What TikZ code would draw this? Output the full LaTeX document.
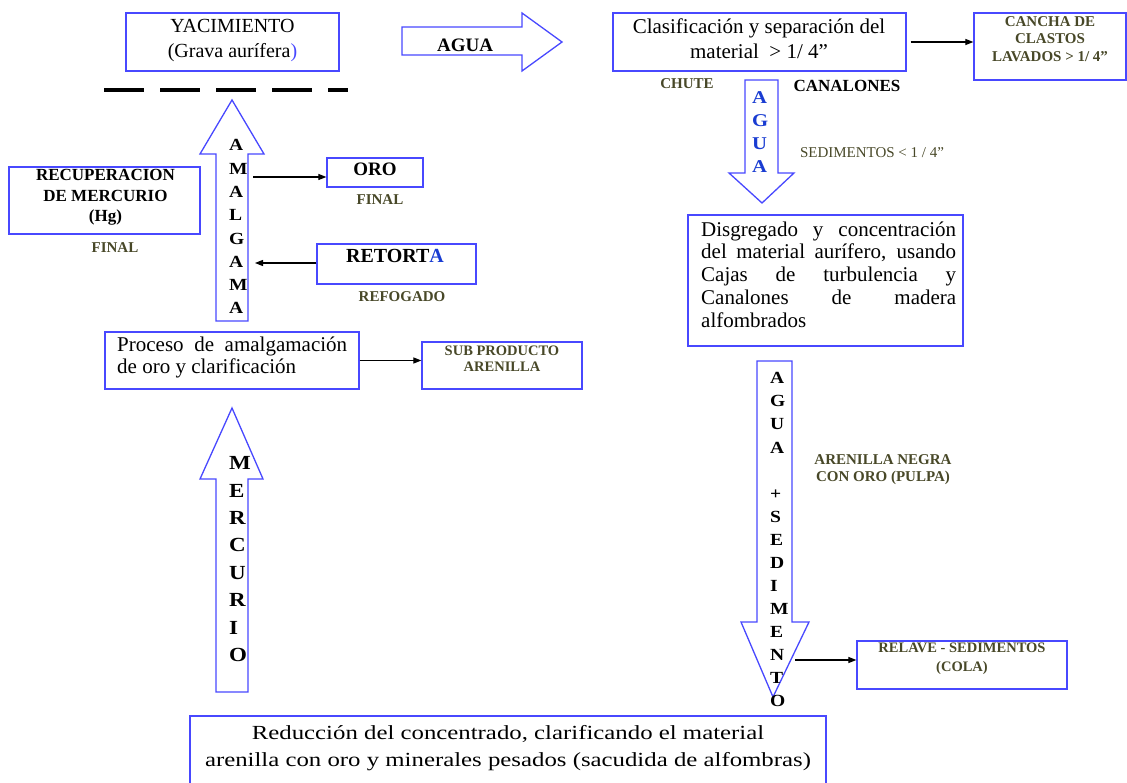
\documentclass[tikz,border=0pt]{standalone}
\usepackage{fontspec}
\setmainfont{Liberation Serif}
\newfontfamily\widefont[FakeStretch=1.24]{Liberation Serif}
\newfontfamily\stackfont[FakeStretch=1.15]{Liberation Serif}
\usetikzlibrary{arrows.meta,calc}
\definecolor{bblue}{RGB}{72,72,255}
\definecolor{lblue}{RGB}{25,60,210}
\definecolor{olive}{RGB}{72,72,40}
\newcommand{\myfs}[2]{\fontsize{#1}{#2}\selectfont}
\begin{document}
\begin{tikzpicture}[x=1pt,y=-1pt,
  box/.style={draw=bblue, line width=1.3pt, inner sep=0pt},
  blockarrow/.style={draw=bblue, line width=1.3pt, fill=white, line join=miter},
  txt/.style={inner sep=0pt, align=center},
  olab/.style={inner sep=0pt, align=center, text=olive, font=\bfseries\myfs{15}{17.5}},
  stack/.style={inner sep=0pt, align=left, anchor=north west},
  conn/.style={-{Triangle[length=8pt,width=6pt]}, line width=1.1pt, black},
]
\useasboundingbox (0,0) rectangle (1127,783);

% ---------- boxes ----------
\node[box, minimum width=213pt, minimum height=58pt] (yac) at (232.5,42) {};
\node[box, minimum width=293pt, minimum height=58pt] (clas) at (759.5,42) {};
\node[box, minimum width=152pt, minimum height=67pt] (cancha) at (1050,46.5) {};
\node[box, minimum width=275pt, minimum height=131pt] (dis) at (825.5,280.5) {};
\node[box, minimum width=210pt, minimum height=48pt] (relave) at (962,665) {};
\node[box, minimum width=636pt, minimum height=74pt] (red) at (508,753) {};
\node[box, minimum width=191pt, minimum height=67pt] (recup) at (104.5,200.5) {};
\node[box, minimum width=96pt, minimum height=29pt] (oro) at (375,172.5) {};
\node[box, minimum width=159pt, minimum height=40pt] (retorta) at (396.5,264) {};
\node[box, minimum width=254pt, minimum height=57pt] (proc) at (232,360.5) {};
\node[box, minimum width=160pt, minimum height=47pt] (sub) at (502,365.5) {};

% ---------- dashed line ----------
\draw[line width=4pt, dash pattern=on 40pt off 16pt] (104,90) -- (348,90);

% ---------- block arrows ----------
\draw[blockarrow] (402,27) -- (522,27) -- (522,13) -- (562,42) -- (522,71) -- (522,55) -- (402,55) -- cycle;
\draw[blockarrow] (745,80) -- (778,80) -- (778,173) -- (794,173) -- (762,203) -- (729,173) -- (745,173) -- cycle;
\draw[blockarrow] (757,361) -- (792,361) -- (792,622) -- (809,622) -- (773,697) -- (741,622) -- (757,622) -- cycle;
\draw[blockarrow] (216,321) -- (248,321) -- (248,154) -- (264,154) -- (232,100) -- (200,154) -- (216,154) -- cycle;
\draw[blockarrow] (216,692) -- (248,692) -- (248,479) -- (263,479) -- (232,408) -- (200,479) -- (216,479) -- cycle;

% ---------- texts ----------
\node[txt, font=\myfs{20}{25}] (yact) at (232.5,40.5) {YACIMIENTO\\(Grava aurífera\textcolor{bblue}{)}};
\node[txt, font=\bfseries\myfs{19}{22}] (aguat) at (465,45) {AGUA};
\node[txt, font=\myfs{21}{25}] (clast) at (759,38.5) {Clasificación y separación del\\material\ \ > 1/ 4”};
\node[olab] (canchat) at (1050,39) {CANCHA DE\\CLASTOS\\LAVADOS > 1/ 4”};
\node[olab] (chute) at (687,84) {CHUTE};
\node[txt, font=\bfseries\myfs{17}{20}] (canal) at (847,86) {CANALONES};
\node[stack, text=lblue, font=\stackfont\bfseries\myfs{18}{23}] (agua2) at (752,91) {A\\G\\U\\A};
\node[txt, text=olive, font=\myfs{15}{17}] (sedl) at (872,153) {SEDIMENTOS < 1 / 4”};
\node[inner sep=0pt, align=left, anchor=west, font=\myfs{21}{22.7}] (dist) at (701,274.5)
  {\makebox[255pt][s]{Disgregado y concentración}\\
   \makebox[255pt][s]{del material aurífero, usando}\\
   \makebox[255pt][s]{Cajas de turbulencia y}\\
   \makebox[255pt][s]{Canalones de madera}\\
   alfombrados};
\node[stack, font=\stackfont\bfseries\myfs{17}{23.07}] (aguased) at (770,372.4)
  {A\\G\\U\\A\\[23.07pt]+\\S\\E\\D\\I\\M\\E\\N\\T\\O};
\node[olab, font=\bfseries\myfs{15}{17}] (aren) at (883,469.5) {ARENILLA NEGRA\\CON ORO (PULPA)};
\node[olab, font=\bfseries\myfs{14.5}{19}] (relt) at (962,659) {RELAVE - SEDIMENTOS\\(COLA)};
\node[txt, font=\widefont\myfs{20}{27}] (redt) at (508,748.5)
  {Reducción del concentrado, clarificando el material\\arenilla con oro y minerales pesados (sacudida de alfombras)};

\node[txt, font=\bfseries\myfs{17}{20.5}] (rect) at (105.5,197.5) {RECUPERACION\\DE MERCURIO\\(Hg)};
\node[olab] (fin1) at (115,248) {FINAL};
\node[txt, font=\bfseries\myfs{19}{22}] (orot) at (375,169.5) {ORO};
\node[olab] (fin2) at (380,200) {FINAL};
\node[txt, font=\bfseries\myfs{20}{24}] (rett) at (395,255.5) {RETORT\textcolor{lblue}{A}};
\node[olab] (refog) at (402,297) {REFOGADO};
\node[stack, font=\stackfont\bfseries\myfs{17}{23.3}] (amal) at (229,139.4) {A\\M\\A\\L\\G\\A\\M\\A};
\node[inner sep=0pt, align=left, anchor=west, font=\myfs{21}{22}] (proct) at (117,357.5)
  {\makebox[230pt][s]{Proceso de amalgamación}\\de oro y clarificación};
\node[olab, font=\bfseries\myfs{14.5}{16}] (subt) at (502,359) {SUB PRODUCTO\\ARENILLA};
\node[stack, font=\stackfont\bfseries\myfs{20}{27.4}] (merc) at (229,456.4) {M\\E\\R\\C\\U\\R\\I\\O};

% ---------- connectors ----------
\draw[conn] ([xshift=4pt]clas.east) -- (clas.east -| cancha.west);
\coordinate (am1) at (253,177);
\draw[conn] (am1) -- (am1 -| oro.west);
\coordinate (am2) at (255,263);
\draw[conn] (am2 -| retorta.west) -- (am2);
\draw[conn] (proc.east) -- (proc.east -| sub.west);
\coordinate (sd1) at (795,660);
\draw[conn] (sd1) -- (sd1 -| relave.west);
\end{tikzpicture}
\end{document}
